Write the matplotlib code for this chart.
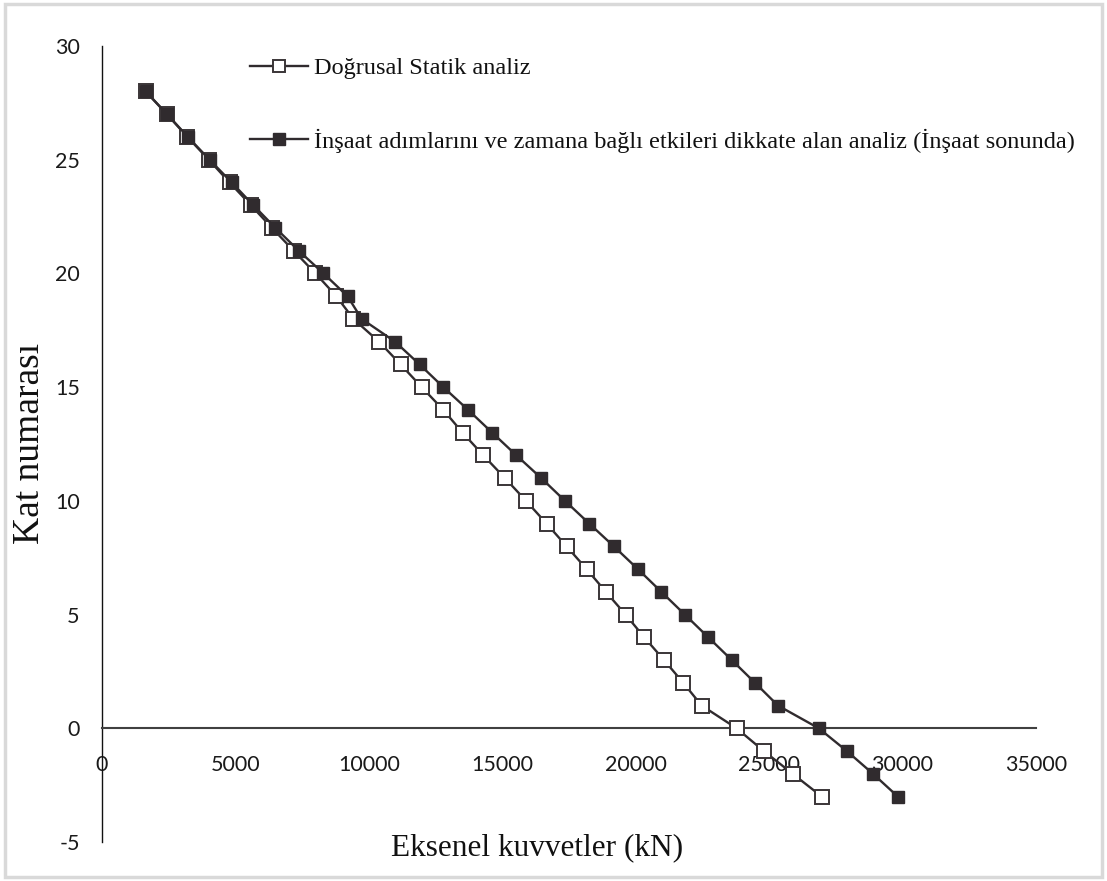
import matplotlib
matplotlib.use("Agg")
import matplotlib.pyplot as plt
from matplotlib.patches import Rectangle
from matplotlib.font_manager import FontProperties

# Data
floors = [28, 27, 26, 25, 24, 23, 22, 21, 20, 19, 18, 17, 16, 15, 14, 13, 12, 11, 10,
          9, 8, 7, 6, 5, 4, 3, 2, 1, 0, -1, -2, -3]
linear_static = [1640, 2430, 3200, 4000, 4780, 5580, 6370, 7180, 8000, 8780, 9420, 10380,
                 11190, 11980, 12790, 13510, 14290, 15100, 15890, 16660, 17410, 18160,
                 18880, 19620, 20320, 21060, 21780, 22470, 23780, 24800, 25880, 26970]
construction = [1640, 2440, 3220, 4030, 4860, 5670, 6500, 7370, 8300, 9200, 9730, 10980,
                11900, 12790, 13720, 14620, 15530, 16460, 17350, 18260, 19180, 20080,
                20960, 21840, 22720, 23600, 24470, 25330, 26860, 27910, 28890, 29820]
label_linear = "Doğrusal Statik analiz"
label_constr = "İnşaat adımlarını ve zamana bağlı etkileri dikkate alan analiz (İnşaat sonunda)"
xticks = [0, 5000, 10000, 15000, 20000, 25000, 30000, 35000]
yticks = [-5, 0, 5, 10, 15, 20, 25, 30]

W, H = 1107, 881
fig = plt.figure(figsize=(W / 100, H / 100), dpi=100)
ax = fig.add_axes([102 / W, 1 - 842 / H, 934 / W, 796 / H])

dark = "#302b2e"
ax.plot(linear_static, floors, color=dark, lw=1.7, marker="s", ms=9.5,
        mfc="white", mec="#3a3537", mew=1.4, label=label_linear, zorder=3)
ax.plot(construction, floors, color=dark, lw=1.7, marker="s", ms=9,
        mfc=dark, mec=dark, mew=1.0, label=label_constr, zorder=4)

ax.set_xlim(0, 35000)
ax.set_ylim(-5, 30)
ax.set_xticks(xticks)
ax.set_yticks(yticks)
ax.set_xticklabels([str(v) for v in xticks])
ax.set_yticklabels([str(v) for v in yticks])

for s in ["top", "right"]:
    ax.spines[s].set_visible(False)
ax.spines["bottom"].set_position(("data", 0))
ax.spines["bottom"].set_color("#404040")
ax.spines["bottom"].set_linewidth(1.5)
ax.spines["left"].set_color("#111111")
ax.spines["left"].set_linewidth(1.0)

ax.tick_params(axis="x", length=0, pad=19, colors="#1a1a1a")
ax.tick_params(axis="y", length=0, pad=16, colors="#1a1a1a")
for lab in ax.get_xticklabels() + ax.get_yticklabels():
    lab.set_fontfamily(["Lato", "DejaVu Sans"])
    lab.set_fontsize(15.5)

serif = ["Liberation Serif", "DejaVu Serif"]
fig.text(537 / W, 1 - 848 / H, "Eksenel kuvvetler (kN)", family=serif, size=22.5,
         ha="center", va="center", color="#111111")
fig.text(30 / W, 1 - 443 / H, "Kat numarası", family=serif, size=27,
         rotation=90, ha="center", va="center", color="#111111")

leg = ax.legend(loc="upper left", bbox_to_anchor=((250 - 102) / 934, (842 - 57) / 796),
                frameon=False, prop=FontProperties(family=serif, size=17.5),
                handlelength=2.4, handletextpad=0.25, labelspacing=2.05, borderpad=0,
                borderaxespad=0, markerscale=0.9)
for t in leg.get_texts():
    t.set_color("#111111")
    t.set_fontfamily(serif)
    t.set_fontsize(17.5)

fig.patches.append(Rectangle((5 / W, 4 / H), 1097 / W, 873 / H, transform=fig.transFigure,
                             fill=False, ec="#d9d9d9", lw=2.5, zorder=0))

fig.savefig("out.png", dpi=100, facecolor="white")
